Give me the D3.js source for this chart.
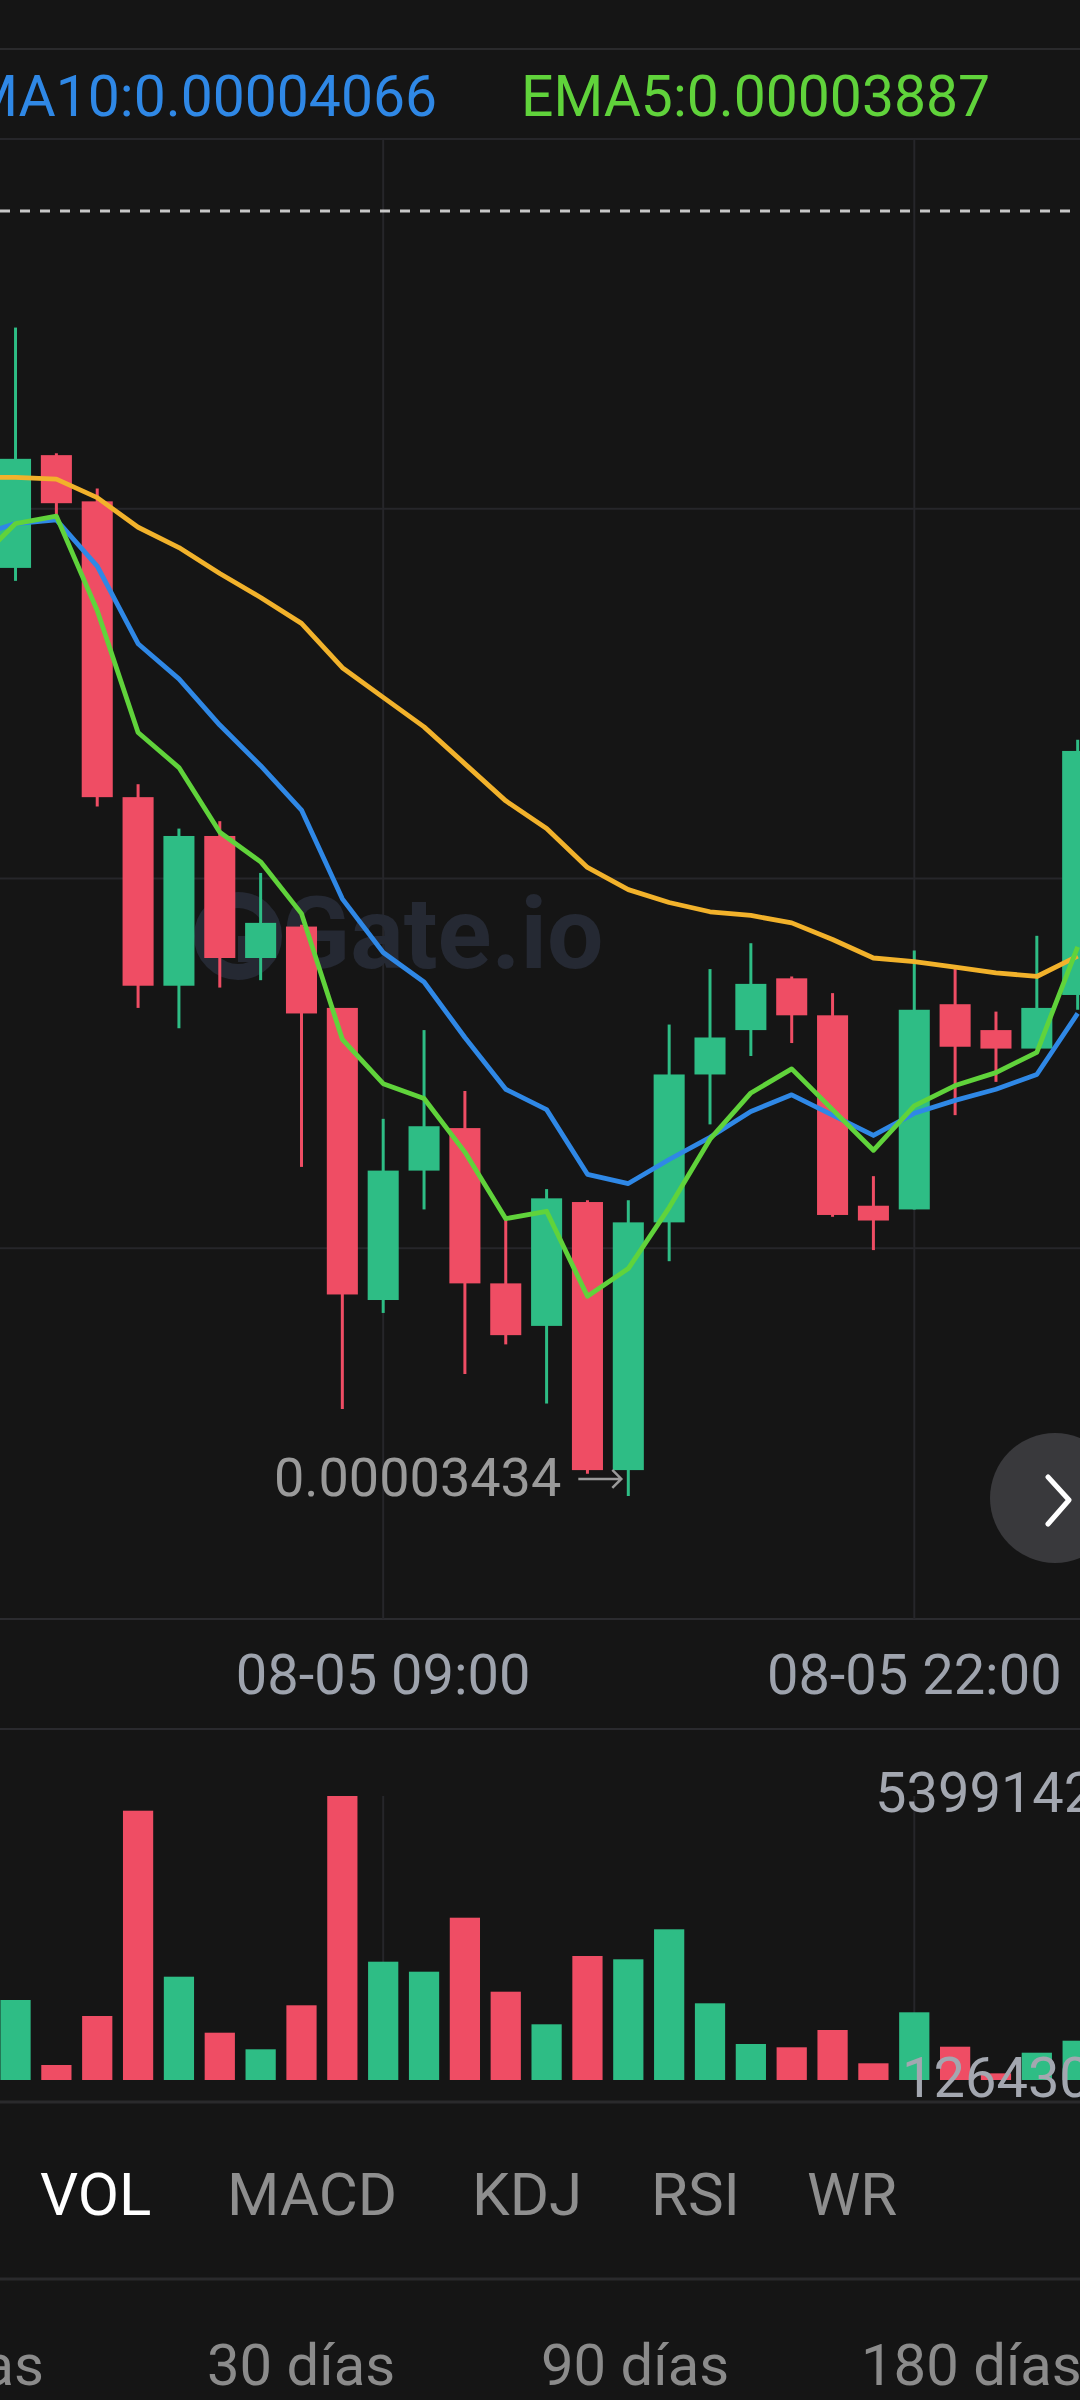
<!DOCTYPE html>
<html><head><meta charset="utf-8">
<script src="https://cdn.jsdelivr.net/npm/d3@7"></script>
<style>html,body{margin:0;padding:0;background:#151515;} svg{display:block;}</style>
</head><body>
<svg id="c" width="1080" height="2400"></svg>
<script>
// ---------- data ----------
const prevTime = "08-04 23:00";
const times = ["08-05 00:00","08-05 01:00","08-05 02:00","08-05 03:00","08-05 04:00","08-05 05:00","08-05 06:00","08-05 07:00","08-05 08:00","08-05 09:00","08-05 10:00","08-05 11:00","08-05 12:00","08-05 13:00","08-05 14:00","08-05 15:00","08-05 16:00","08-05 17:00","08-05 18:00","08-05 19:00","08-05 20:00","08-05 21:00","08-05 22:00","08-05 23:00","08-06 00:00","08-06 01:00","08-06 02:00"];
const openP  = [0.00003936,0.00003997,0.00003972,0.00003812,0.00003710,0.00003791,0.00003725,0.00003742,0.00003698,0.00003540,0.00003610,0.00003633,0.00003549,0.00003526,0.00003593,0.00003448,0.00003582,0.00003662,0.00003686,0.00003714,0.00003694,0.00003591,0.00003589,0.00003700,0.00003686,0.00003676,0.00003705];
const closeP = [0.00003995,0.00003971,0.00003812,0.00003710,0.00003791,0.00003725,0.00003744,0.00003695,0.00003543,0.00003610,0.00003634,0.00003549,0.00003521,0.00003595,0.00003448,0.00003582,0.00003662,0.00003682,0.00003711,0.00003694,0.00003586,0.00003583,0.00003697,0.00003677,0.00003676,0.00003698,0.00003837];
const highP  = [0.00004066,0.00003998,0.00003979,0.00003819,0.00003795,0.00003799,0.00003771,0.00003743,0.00003698,0.00003638,0.00003686,0.00003653,0.00003584,0.00003600,0.00003594,0.00003594,0.00003689,0.00003719,0.00003733,0.00003715,0.00003706,0.00003607,0.00003729,0.00003721,0.00003696,0.00003737,0.00003843];
const lowP   = [0.00003929,0.00003965,0.00003807,0.00003698,0.00003687,0.00003709,0.00003713,0.00003612,0.00003481,0.00003533,0.00003589,0.00003500,0.00003516,0.00003484,0.00003446,0.00003434,0.00003561,0.00003635,0.00003672,0.00003679,0.00003585,0.00003567,0.00003589,0.00003640,0.00003658,0.00003676,0.00003697];
const volume = [1520880,285170,1216700,5119660,1963840,899220,583640,1420120,5399142,2249000,2058890,3085490,1678670,1058910,2357360,2294630,2864960,1458140,684400,621660,950550,317480,1287040,633070,126430,519000,747130];
// EMA series (first value belongs to prevTime)
const ema30 = [0.00003985,0.00003985,0.00003984,0.00003974,0.00003958,0.00003947,0.00003933,0.00003920,0.00003906,0.00003882,0.00003866,0.00003850,0.00003830,0.00003810,0.00003795,0.00003774,0.00003762,0.00003755,0.00003750,0.00003748,0.00003744,0.00003735,0.00003725,0.00003723,0.00003720,0.00003717,0.00003715,0.00003726];
const ema10 = [0.00003953,0.00003960,0.00003962,0.00003937,0.00003895,0.00003876,0.00003851,0.00003829,0.00003805,0.00003757,0.00003728,0.00003712,0.00003682,0.00003654,0.00003643,0.00003608,0.00003603,0.00003616,0.00003628,0.00003642,0.00003651,0.00003640,0.00003629,0.00003641,0.00003648,0.00003654,0.00003662,0.00003695];
const ema5  = [0.00003938,0.00003960,0.00003964,0.00003913,0.00003847,0.00003828,0.00003793,0.00003777,0.00003749,0.00003681,0.00003657,0.00003649,0.00003620,0.00003584,0.00003588,0.00003542,0.00003557,0.00003590,0.00003627,0.00003652,0.00003665,0.00003643,0.00003621,0.00003645,0.00003656,0.00003663,0.00003674,0.00003731];
const lastPrice = 0.00004129;
const priceDomain = [0.00003368, 0.00004168];
const xTickLabels = ["08-05 09:00","08-05 22:00"];
const legendNames = ["EMA10","EMA5"];
const legendValues = ["0.00004066","0.00003887"];
const volMax = 5399142, volMinLabel = 126430;
const tabs = ["VOL","MACD","KDJ","RSI","WR"];
const ranges = ["7 días","30 días","90 días","180 días"];

// ---------- styles ----------
const BG="#151515", GRID="#26262a", UP="#2ebd85", DOWN="#ef4d64";
const C30="#f2b22b", C10="#2f88e6", C5="#60d33b";
const FONT="Roboto, 'Noto Sans', sans-serif";

const svg = d3.select("#c");
svg.append("rect").attr("width",1080).attr("height",2400).attr("fill",BG);

const allTimes = [prevTime, ...times];
const x = d3.scalePoint().domain(allTimes).range([-45.75, 1098.1]).padding(0.5);
const step = x.step();
const y = d3.scaleLinear().domain(priceDomain).range([1618, 139]);
const yv = d3.scaleLinear().domain([0, volMax]).range([2080, 1796]);

// top separator
svg.append("line").attr("x1",0).attr("x2",1080).attr("y1",49).attr("y2",49).attr("stroke","#2a2a2c").attr("stroke-width",2);

// legend
const lg = svg.append("g").attr("font-family",FONT).attr("font-size",57);
lg.append("text").attr("x",437).attr("y",116).attr("text-anchor","end").attr("fill",C10).text(legendNames[0]+":"+legendValues[0]);
lg.append("text").attr("x",521).attr("y",116).attr("fill",C5).text(legendNames[1]+":"+legendValues[1]);

// horizontal gridlines
const gridVals = d3.range(5).map(k => priceDomain[0] + k*(priceDomain[1]-priceDomain[0])/4);
svg.append("g").selectAll("line").data(gridVals.slice(1)).join("line")
  .attr("x1",0).attr("x2",1080).attr("y1",d=>y(d)).attr("y2",d=>y(d))
  .attr("stroke",GRID).attr("stroke-width",2);
svg.append("line").attr("x1",0).attr("x2",1080).attr("y1",1619).attr("y2",1619).attr("stroke","#2b2b2f").attr("stroke-width",2);

// vertical gridlines
svg.append("g").selectAll("line").data(xTickLabels).join("line")
  .attr("x1",d=>x(d)).attr("x2",d=>x(d)).attr("y1",139).attr("y2",1619)
  .attr("stroke",GRID).attr("stroke-width",2);

// watermark
const wm = svg.append("g").attr("fill","#252933");
wm.append("circle").attr("cx",238).attr("cy",936).attr("r",36).attr("fill","none").attr("stroke","#252933").attr("stroke-width",16);
wm.append("rect").attr("x",238).attr("y",936).attr("width",26).attr("height",26);
wm.append("text").attr("x",282).attr("y",968).attr("font-family",FONT).attr("font-weight",700).attr("font-size",100).text("Gate.io");

// candles
const cd = times.map((t,i)=>({t,o:openP[i],c:closeP[i],h:highP[i],l:lowP[i],v:volume[i]}));
const bw = step*0.76;
const cg = svg.append("g");
cg.selectAll("line").data(cd).join("line")
  .attr("x1",d=>x(d.t)).attr("x2",d=>x(d.t)).attr("y1",d=>y(d.h)).attr("y2",d=>y(d.l))
  .attr("stroke",d=>d.c>=d.o?UP:DOWN).attr("stroke-width",3);
cg.selectAll("rect").data(cd).join("rect")
  .attr("x",d=>x(d.t)-bw/2).attr("width",bw)
  .attr("y",d=>y(Math.max(d.o,d.c))).attr("height",d=>Math.max(2,Math.abs(y(d.o)-y(d.c))))
  .attr("fill",d=>d.c>=d.o?UP:DOWN);

// EMA lines
const line = d3.line().x((d,i)=>x(allTimes[i])).y(d=>y(d));
[[ema30,C30],[ema10,C10],[ema5,C5]].forEach(([s,c])=>{
  svg.append("path").attr("d",line(s)).attr("fill","none").attr("stroke",c).attr("stroke-width",4.8).attr("stroke-linejoin","round");
});

// last price dashed line
svg.append("line").attr("x1",0).attr("x2",1080).attr("y1",y(lastPrice)).attr("y2",y(lastPrice))
  .attr("stroke","#c8c8c8").attr("stroke-width",3).attr("stroke-dasharray","10,10");

// low marker
const minI = d3.minIndex(lowP);
const lx = x(times[minI]), ly = y(lowP[minI]);
svg.append("text").attr("x",lx-67).attr("y",ly).attr("text-anchor","end").attr("font-family",FONT).attr("font-size",54)
  .attr("fill","#9a9a9a").text(lowP[minI].toFixed(8));
svg.append("path").attr("d",`M${lx-50},${ly-17}H${lx-7}M${lx-16},${ly-26}L${lx-7},${ly-17}L${lx-16},${ly-8}`)
  .attr("fill","none").attr("stroke","#9a9a9a").attr("stroke-width",2.5);

// next button
svg.append("circle").attr("cx",1055).attr("cy",1498).attr("r",65).attr("fill","#39393c");
svg.append("path").attr("d","M1048,1477L1069,1500L1048,1524").attr("fill","none").attr("stroke","#fff").attr("stroke-width",5).attr("stroke-linecap","round").attr("stroke-linejoin","round");

// x axis labels
svg.append("g").selectAll("text").data(xTickLabels).join("text")
  .attr("x",d=>x(d)).attr("y",1694).attr("text-anchor","middle").attr("font-family",FONT).attr("font-size",56)
  .attr("fill","#9ea3ad").text(d=>d);

// volume panel
svg.append("line").attr("x1",0).attr("x2",1080).attr("y1",1729).attr("y2",1729).attr("stroke","#2a2a2e").attr("stroke-width",2);
svg.append("g").selectAll("line").data(xTickLabels).join("line")
  .attr("x1",d=>x(d)).attr("x2",d=>x(d)).attr("y1",yv(volMax)).attr("y2",yv(0))
  .attr("stroke",GRID).attr("stroke-width",2);
const vbw = step*0.74;
svg.append("g").selectAll("rect").data(cd).join("rect")
  .attr("x",d=>x(d.t)-vbw/2).attr("width",vbw)
  .attr("y",d=>yv(d.v)).attr("height",d=>yv(0)-yv(d.v))
  .attr("fill",d=>d.c>=d.o?UP:DOWN);
svg.append("text").attr("x",875).attr("y",1812).attr("font-family",FONT).attr("font-size",56).attr("fill","#a3a7b0").text(volMax);
svg.append("text").attr("x",902).attr("y",2097).attr("font-family",FONT).attr("font-size",56).attr("fill","#a3a7b0").text(volMinLabel);

// tabs
svg.append("line").attr("x1",0).attr("x2",1080).attr("y1",2102).attr("y2",2102).attr("stroke","#2a2a2c").attr("stroke-width",3);
const tabX = [40,227,472,651,807];
svg.append("g").selectAll("text").data(tabs).join("text")
  .attr("x",(d,i)=>tabX[i]).attr("y",2215).attr("font-family",FONT).attr("font-size",60)
  .attr("fill",(d,i)=>i===0?"#ffffff":"#8e8e8e").text(d=>d);
svg.append("line").attr("x1",0).attr("x2",1080).attr("y1",2279).attr("y2",2279).attr("stroke","#2a2a2c").attr("stroke-width",3);
const rangeX = [44,207,541,861];
svg.append("g").selectAll("text").data(ranges).join("text")
  .attr("x",(d,i)=>rangeX[i]).attr("y",2385).attr("text-anchor",(d,i)=>i===0?"end":"start")
  .attr("font-family",FONT).attr("font-size",58).attr("fill","#8b8b8b").text(d=>d);
</script>
</body></html>
